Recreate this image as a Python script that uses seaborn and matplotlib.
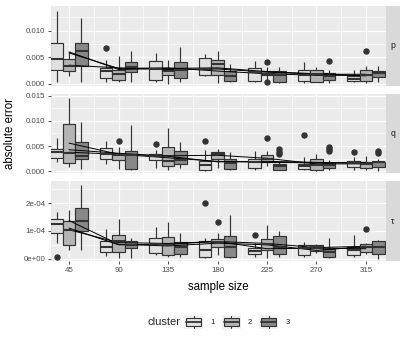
import matplotlib
matplotlib.use("Agg")
import matplotlib.pyplot as plt
from matplotlib.patches import Patch, Rectangle
from matplotlib.lines import Line2D
from matplotlib.legend_handler import HandlerBase
from matplotlib.ticker import MultipleLocator, FormatStrFormatter, FuncFormatter
import pandas as pd
import seaborn as sns

# --- values ---
SIZES = [45, 90, 135, 180, 225, 270, 315]
CLUSTERS = ["1", "2", "3"]
FILLS = ["#e0e0e0", "#b4b4b4", "#888888"]

# box stats (lower whisker, q1, median, q3, upper whisker), per size: cluster 1, 2, 3
P_BOX = [  # x 1e-3
    (0.3, 2.63, 4.6, 7.63, 13.75), (1.4, 2.5, 3.44, 4.69, 5.9), (0.3, 3.44, 6.25, 7.63, 12.4),
    (0.4, 1.1, 2.4, 3.0, 4.4), (0.3, 0.75, 1.9, 2.6, 5.2), (0.3, 2.2, 3.1, 4.06, 6.25),
    (0.4, 0.75, 2.8, 4.25, 5.75), (0.0, 1.6, 2.4, 2.8, 4.5), (0.3, 1.1, 2.6, 4.1, 6.9),
    (1.4, 1.75, 2.8, 4.9, 5.6), (0.1, 1.75, 3.75, 4.4, 6.1), (0.3, 0.5, 1.4, 2.4, 3.75),
    (0.4, 0.6, 2.2, 2.9, 4.2), (0.8, 1.6, 1.9, 2.4, 3.2), (0.1, 0.3, 1.75, 2.4, 3.1),
    (0.1, 0.6, 1.75, 2.6, 4.1), (0.3, 0.4, 1.9, 2.6, 3.1), (0.1, 0.8, 1.4, 2.0, 2.6),
    (0.3, 0.5, 0.9, 1.4, 2.6), (0.1, 0.5, 1.75, 2.6, 3.4), (0.3, 1.25, 2.0, 2.4, 3.3),
]
P_OUT = [(90, "1", 6.7), (225, "2", 4.05), (225, "2", 0.3), (270, "3", 4.2), (315, "2", 6.25)]
P_MEAN = {"1": [6.0, 2.7, 2.9, 3.0, 2.3, 1.9, 1.5],
          "2": [3.5, 3.0, 2.7, 2.8, 2.2, 1.8, 1.8],
          "3": [5.8, 2.9, 3.0, 2.4, 1.9, 1.6, 1.6]}

Q_BOX = [  # x 1e-3
    (1.8, 2.6, 3.8, 4.34, 6.6), (0.9, 1.6, 3.6, 9.3, 14.5), (0.5, 2.4, 3.0, 5.8, 9.7),
    (1.4, 2.5, 3.5, 4.7, 6.0), (0.5, 2.2, 3.3, 3.5, 4.9), (0.3, 0.5, 3.2, 4.1, 9.1),
    (0.6, 2.3, 3.0, 3.5, 4.3), (0.3, 1.0, 2.0, 4.9, 8.6), (0.7, 1.4, 2.2, 4.0, 5.9),
    (0.1, 0.3, 1.2, 2.0, 4.3), (0.6, 2.5, 3.4, 3.9, 4.5), (0.2, 0.4, 1.6, 2.5, 3.8),
    (0.3, 0.7, 1.8, 2.5, 4.1), (1.0, 1.8, 2.5, 3.2, 4.0), (0.2, 0.3, 1.0, 1.4, 1.8),
    (0.2, 0.5, 1.0, 1.5, 2.8), (0.0, 0.2, 1.2, 2.5, 3.5), (0.3, 0.7, 1.2, 1.6, 2.2),
    (0.3, 0.9, 1.6, 2.0, 2.8), (0.2, 0.7, 1.4, 1.8, 3.0), (0.0, 0.9, 1.8, 1.9, 2.4),
]
Q_OUT = [(90, "2", 6.0), (135, "1", 5.4), (180, "1", 6.1), (225, "2", 6.6),
         (225, "3", 4.5), (225, "3", 3.9), (225, "3", 3.4), (270, "1", 7.2),
         (270, "3", 4.9), (270, "3", 4.5), (270, "3", 4.0), (315, "1", 3.9),
         (315, "3", 4.1), (315, "3", 3.6)]
Q_MEAN = {"1": [4.3, 3.6, 3.0, 1.9, 2.0, 1.8, 1.6],
          "2": [5.6, 3.4, 3.1, 3.2, 2.6, 1.5, 1.5],
          "3": [3.8, 3.4, 2.7, 2.0, 1.8, 1.7, 1.8]}

TAU_BOX = [  # x 1e-4
    (0.56, 0.92, 1.25, 1.44, 1.68), (0.32, 0.5, 1.04, 1.34, 1.74), (0.32, 1.0, 1.34, 1.82, 2.63),
    (0.11, 0.26, 0.41, 0.62, 1.07), (0.02, 0.26, 0.62, 0.84, 1.44), (0.04, 0.38, 0.5, 0.62, 0.74),
    (0.14, 0.2, 0.54, 0.74, 1.13), (0.05, 0.14, 0.5, 0.77, 1.31), (0.05, 0.17, 0.42, 0.6, 0.92),
    (0.03, 0.06, 0.32, 0.65, 0.74), (0.12, 0.41, 0.6, 0.72, 0.92), (0.02, 0.08, 0.44, 0.8, 1.56),
    (0.08, 0.17, 0.29, 0.38, 0.56), (0.02, 0.3, 0.54, 0.72, 1.22), (0.05, 0.17, 0.42, 0.8, 0.98),
    (0.08, 0.14, 0.38, 0.5, 0.6), (0.2, 0.29, 0.41, 0.5, 0.53), (0.02, 0.08, 0.24, 0.36, 0.74),
    (0.08, 0.14, 0.32, 0.44, 0.84), (0.17, 0.26, 0.44, 0.53, 0.56), (0.0, 0.17, 0.41, 0.65, 0.68),
]
TAU_OUT = [(45, "1", 0.06), (180, "1", 2.0), (180, "2", 1.31), (225, "1", 0.86), (315, "2", 1.08)]
TAU_MEAN = {"1": [1.10, 0.50, 0.52, 0.62, 0.36, 0.38, 0.36],
            "2": [1.04, 0.58, 0.55, 0.62, 0.55, 0.40, 0.45],
            "3": [1.37, 0.52, 0.46, 0.56, 0.50, 0.30, 0.44]}

EDGE = "#333333"


def box_values(stats, fliers):
    # a small sample whose quartiles / whiskers / outliers give exactly these stats
    lo, q1, med, q3, hi = stats
    low = sorted(v for v in fliers if v < q1)
    high = sorted(v for v in fliers if v > q3)
    k = max(len(low), len(high)) + 1
    return (low + [lo] * (k - len(low)) + [q1] * k + [med] + [q3] * k
            + [hi] * (k - len(high)) + high)


def long_frames(boxes, outs, means, scale):
    rows = []
    i = 0
    for s in SIZES:
        for c in CLUSTERS:
            fl = [v for (ss, cc, v) in outs if ss == s and cc == c]
            for v in box_values(boxes[i], fl):
                rows.append((s, c, v * scale))
            i += 1
    mrows = [(s, c, v * scale) for c in CLUSTERS for s, v in zip(SIZES, means[c])]
    return (pd.DataFrame(rows, columns=["size", "cluster", "value"]),
            pd.DataFrame(mrows, columns=["size", "cluster", "value"]))


class BoxKey(HandlerBase):
    def create_artists(self, legend, orig, xd, yd, w, h, fontsize, trans):
        x0, y0 = -xd, -yd
        bg = Rectangle((x0, y0), w, h, facecolor="#f2f2f2", edgecolor="none", transform=trans)
        box = Rectangle((x0 + 0.1 * w, y0 + 0.25 * h), 0.8 * w, 0.5 * h,
                        facecolor=orig.get_facecolor(), edgecolor=EDGE, lw=0.8, transform=trans)
        med = Line2D([x0 + 0.1 * w, x0 + 0.9 * w], [y0 + 0.5 * h] * 2, color=EDGE, lw=1.3, transform=trans)
        wt = Line2D([x0 + 0.5 * w] * 2, [y0 + 0.75 * h, y0 + 0.95 * h], color=EDGE, lw=0.8, transform=trans)
        wb = Line2D([x0 + 0.5 * w] * 2, [y0 + 0.05 * h, y0 + 0.25 * h], color=EDGE, lw=0.8, transform=trans)
        return [bg, box, med, wt, wb]


sns.set_theme(style="darkgrid")
plt.rcParams["font.family"] = ["Liberation Sans", "DejaVu Sans"]

W, H = 407, 346
fig = plt.figure(figsize=(W / 100, H / 100), dpi=100)

panels = [
    ("p", P_BOX, P_OUT, P_MEAN, 1e-3, (-0.0004, 0.0146), 0.005, FormatStrFormatter("%.3f")),
    ("q", Q_BOX, Q_OUT, Q_MEAN, 1e-3, (-0.0004, 0.0154), 0.005, FormatStrFormatter("%.3f")),
    ("\u03c4", TAU_BOX, TAU_OUT, TAU_MEAN, 1e-4, (-0.08e-4, 2.79e-4), 1e-4,
     FuncFormatter(lambda v, pos: f"{v:.0e}")),
]
tops = [6, 93.5, 181]
ph = 80
left, right = 51, 386

for i, (lab, boxes, outs, means, scale, ylim, step, fmt) in enumerate(panels):
    df, mdf = long_frames(boxes, outs, means, scale)
    ax = fig.add_axes([left / W, 1 - (tops[i] + ph) / H, (right - left) / W, ph / H])
    ax.set_facecolor("#ebebeb")
    sns.boxplot(data=df, x="size", y="value", hue="cluster", hue_order=CLUSTERS,
                palette=dict(zip(CLUSTERS, FILLS)), native_scale=True, width=0.75,
                saturation=1, linecolor=EDGE, linewidth=0.85, fliersize=3.6,
                legend=False, showcaps=False, ax=ax,
                boxprops=dict(edgecolor=EDGE, linewidth=0.85),
                whiskerprops=dict(color=EDGE, linewidth=0.85),
                medianprops=dict(color=EDGE, linewidth=1.5),
                flierprops=dict(marker="o", markerfacecolor=EDGE,
                                markeredgecolor=EDGE))
    sns.lineplot(data=mdf, x="size", y="value", units="cluster", estimator=None,
                 color="black", linewidth=0.7, ax=ax)
    ax.set_xlim(28.6, 333.2)
    ax.set_ylim(*ylim)
    ax.set_xticks(SIZES)
    ax.xaxis.set_minor_locator(MultipleLocator(22.5))
    ax.yaxis.set_major_locator(MultipleLocator(step))
    ax.yaxis.set_minor_locator(MultipleLocator(step / 2))
    ax.yaxis.set_major_formatter(fmt)
    ax.grid(which="major", color="white", linewidth=0.9)
    ax.grid(which="minor", color="white", linewidth=0.45)
    ax.set_axisbelow(True)
    for s in ax.spines.values():
        s.set_visible(False)
    ax.set_xlabel("")
    ax.set_ylabel("")
    ax.tick_params(which="major", left=True, bottom=(i == 2), labelbottom=(i == 2),
                   length=2.5, width=0.6, color=EDGE, pad=1.5,
                   labelsize=5.7, labelcolor="#4d4d4d")
    ax.tick_params(which="minor", length=0)

    sax = fig.add_axes([right / W, 1 - (tops[i] + ph) / H, 14 / W, ph / H])
    sax.set_facecolor("#d9d9d9")
    sax.set_xticks([])
    sax.set_yticks([])
    sax.grid(False)
    for s in sax.spines.values():
        s.set_visible(False)
    sax.text(0.5, 0.5, lab, ha="center", va="center", fontsize=6.2, color="#1a1a1a",
             transform=sax.transAxes)

fig.text(10 / W, 1 - 133.5 / H, "absolute error", rotation=90, ha="center", va="center",
         fontsize=8.3, color="black")
fig.text((left + right) / 2 / W, 1 - 287 / H, "sample size", ha="center", va="center",
         fontsize=8.3, color="black")

fig.text(148 / W, 1 - 322 / H, "cluster", ha="left", va="center", fontsize=8.0)
handles = [Patch(facecolor=c) for c in FILLS]
fig.legend(handles, CLUSTERS, handler_map={Patch: BoxKey()}, loc="center left",
           bbox_to_anchor=(184 / W, 1 - 322 / H), ncol=3, frameon=False, fontsize=5.7,
           handlelength=2.4, handleheight=2.4, handletextpad=0.9, columnspacing=0.9,
           borderpad=0, borderaxespad=0)

fig.savefig("out.png", dpi=100)
